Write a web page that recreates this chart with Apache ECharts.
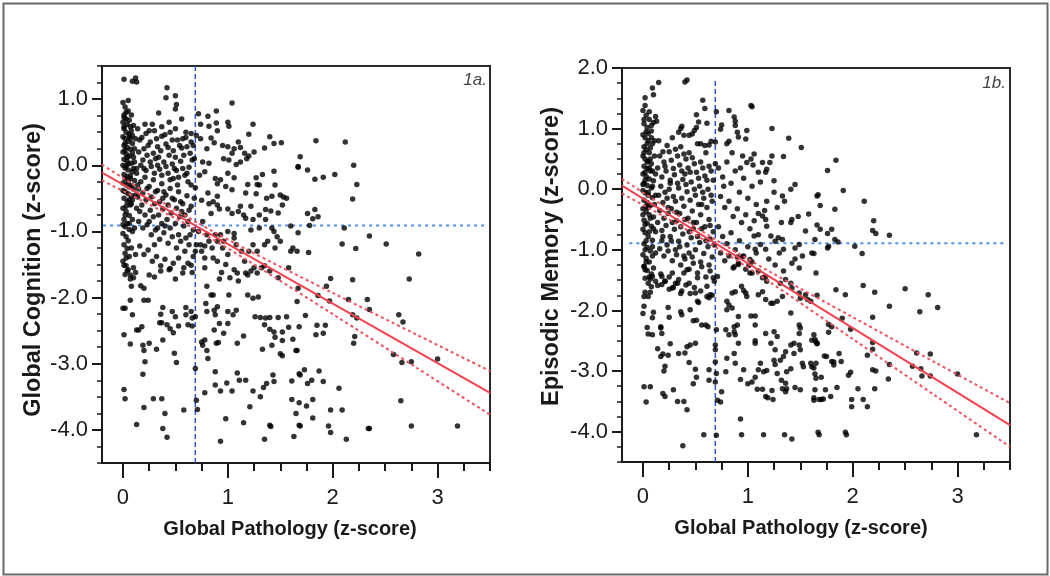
<!DOCTYPE html>
<html>
<head>
<meta charset="utf-8">
<script src="https://cdn.jsdelivr.net/npm/echarts@6/dist/echarts.min.js"></script>
<style>
html,body{margin:0;padding:0;background:#fff;}
#chart{width:1050px;height:576px;}
</style>
</head>
<body>
<div id="chart"></div>
<script>
// ---------- axis ticks ----------
const xMajorTicks = [0, 1, 2, 3];
const xMinorTicks = [0, 0.25, 0.5, 0.75, 1, 1.25, 1.5, 1.75, 2, 2.25, 2.5, 2.75, 3, 3.25, 3.5];
const yMajorTicksA = [-4, -3, -2, -1, 0, 1];
const yMinorTicksA = [-4.5, -4.25, -4, -3.75, -3.5, -3.25, -3, -2.75, -2.5, -2.25, -2, -1.75, -1.5, -1.25, -1, -0.75, -0.5, -0.25, 0, 0.25, 0.5, 0.75, 1, 1.25, 1.5];
const yMajorTicksB = [-4, -3, -2, -1, 0, 1, 2];
const yMinorTicksB = [-4.5, -4.25, -4, -3.75, -3.5, -3.25, -3, -2.75, -2.5, -2.25, -2, -1.75, -1.5, -1.25, -1, -0.75, -0.5, -0.25, 0, 0.25, 0.5, 0.75, 1, 1.25, 1.5, 1.75, 2];

// ---------- panel 1a: Global Cognition vs Global Pathology ----------
const cognitionDense = [[0.00,0.95],[0.02,0.88],[0.05,0.82],[0.01,0.76],[0.03,0.70],[0.00,0.65],[0.04,0.62],[0.07,0.58],[0.01,0.55],[0.03,0.50],[0.06,0.47],[0.00,0.43],[0.02,0.40],[0.05,0.36],[0.09,0.33],[0.01,0.30],[0.04,0.27],[0.07,0.24],[0.00,0.20],[0.03,0.17],[0.06,0.14],[0.10,0.12],[0.01,0.09],[0.04,0.06],[0.08,0.03],[0.00,0.00],[0.02,-0.04],[0.05,-0.07],[0.09,-0.10],[0.01,-0.14],[0.04,-0.17],[0.07,-0.20],[0.11,-0.23],[0.00,-0.27],[0.03,-0.30],[0.06,-0.33],[0.10,-0.36],[0.02,-0.40],[0.05,-0.43],[0.08,-0.46],[0.01,-0.50],[0.04,-0.55],[0.07,-0.60],[0.00,-0.65],[0.03,-0.70],[0.06,-0.76],[0.01,-0.82],[0.04,-0.88],[0.02,-0.93],[0.06,-0.97],[0.00,-1.03],[0.03,-1.08],[0.05,-1.14],[0.01,-1.20],[0.04,-1.26],[0.02,-1.33],[0.06,-1.38],[0.00,-1.45],[0.03,-1.52],[0.05,-1.58],[0.02,-1.65],[0.07,-1.72],[0.01,0.72],[0.06,0.68],[0.08,0.52],[0.02,0.33],[0.09,0.18],[0.03,-0.01],[0.07,-0.16],[0.00,-0.38],[0.05,-0.25],[0.01,0.58],[0.04,0.12],[0.08,-0.58],[0.02,-0.75],[0.09,-0.82],[0.00,-0.90],[0.08,-0.31],[0.06,0.44],[0.10,0.60],[0.12,0.40],[0.13,-0.05],[0.12,-0.45],[0.14,-0.30],[0.11,0.05],[0.13,-0.65],[0.03,0.80],[0.07,0.40],[0.02,0.23],[0.09,0.45],[0.05,0.02],[0.10,-0.05],[0.02,-0.20],[0.09,-0.52],[0.03,-0.62],[0.06,-0.88],[0.09,-1.00],[0.03,-1.40],[0.08,-1.25],[0.11,-0.95],[0.12,-1.35],[0.10,-1.55],[0.05,0.98],[0.08,0.76],[0.11,0.25],[0.06,-0.52]];
const cognitionMid = [[0.14,0.55],[0.18,0.42],[0.22,0.48],[0.26,0.35],[0.30,0.52],[0.33,0.28],[0.37,0.44],[0.41,0.32],[0.45,0.50],[0.48,0.22],[0.52,0.38],[0.56,0.26],[0.60,0.42],[0.64,0.18],[0.67,0.30],[0.15,0.20],[0.19,0.08],[0.23,0.15],[0.27,-0.02],[0.31,0.10],[0.35,-0.06],[0.39,0.05],[0.43,-0.12],[0.47,0.02],[0.51,-0.08],[0.55,0.06],[0.59,-0.15],[0.63,-0.03],[0.66,0.08],[0.13,-0.12],[0.17,-0.25],[0.21,-0.18],[0.25,-0.32],[0.29,-0.22],[0.33,-0.38],[0.37,-0.28],[0.41,-0.45],[0.45,-0.35],[0.49,-0.52],[0.53,-0.40],[0.57,-0.58],[0.61,-0.46],[0.65,-0.62],[0.14,-0.48],[0.18,-0.60],[0.22,-0.52],[0.26,-0.68],[0.30,-0.58],[0.34,-0.75],[0.38,-0.66],[0.42,-0.82],[0.46,-0.72],[0.50,-0.88],[0.54,-0.78],[0.58,-0.92],[0.62,-0.85],[0.67,-0.98],[0.15,-0.85],[0.19,-0.95],[0.23,-0.90],[0.27,-1.05],[0.31,-0.98],[0.35,-1.12],[0.39,-1.02],[0.43,-1.18],[0.47,-1.08],[0.51,-1.25],[0.55,-1.15],[0.59,-1.30],[0.63,-1.20],[0.67,-1.38],[0.16,-1.22],[0.20,-1.35],[0.24,-1.28],[0.28,-1.45],[0.32,-1.38],[0.36,-1.52],[0.40,-1.42],[0.44,-1.58],[0.48,-1.48],[0.53,-1.40],[0.58,-1.55],[0.62,-1.48],[0.66,-1.62],[0.20,-0.05],[0.24,0.30],[0.28,0.62],[0.34,0.12],[0.38,-0.50],[0.44,0.15],[0.52,-0.30],[0.58,0.15],[0.62,-0.25],[0.16,-0.70],[0.40,-0.92],[0.48,-0.20],[0.56,-0.70],[0.30,-1.20],[0.64,-1.05],[0.16,0.38],[0.20,0.25],[0.25,0.52],[0.29,0.18],[0.32,0.40],[0.36,0.22],[0.40,0.46],[0.43,0.27],[0.47,0.38],[0.50,0.12],[0.54,0.30],[0.57,0.40],[0.61,0.28],[0.65,0.35],[0.68,0.10],[0.17,0.00],[0.22,-0.08],[0.26,0.05],[0.30,-0.12],[0.33,0.00],[0.37,-0.15],[0.41,-0.02],[0.45,-0.22],[0.49,-0.05],[0.53,-0.18],[0.57,-0.05],[0.61,-0.12],[0.65,-0.30],[0.15,-0.36],[0.19,-0.42],[0.23,-0.35],[0.27,-0.48],[0.31,-0.40],[0.35,-0.55],[0.39,-0.40],[0.43,-0.60],[0.47,-0.50],[0.51,-0.65],[0.55,-0.55],[0.59,-0.75],[0.63,-0.68],[0.68,-0.50],[0.21,-0.75],[0.25,-0.85],[0.29,-0.78],[0.33,-0.95],[0.37,-0.88],[0.45,-0.95],[0.53,-1.05],[0.60,-1.10]];
const cognitionUpper = [[0.01,1.30],[0.09,1.27],[0.12,1.32],[0.13,1.26],[0.42,1.17],[0.41,1.02],[0.50,1.05],[0.51,0.92],[0.50,0.85],[0.72,0.78],[0.81,0.74],[0.89,0.82],[1.04,0.94],[0.82,0.59],[0.89,0.64],[0.74,0.62],[1.00,0.65],[1.01,0.59],[1.24,0.62],[1.20,0.47],[0.90,0.52],[0.34,0.79],[0.56,0.70],[0.44,0.65],[0.21,0.62],[0.37,0.58],[0.50,0.55],[0.60,0.50],[0.65,0.48],[0.74,0.40],[0.84,0.41],[0.87,0.34],[1.00,0.28],[1.06,0.25],[1.12,0.27],[1.16,0.18],[1.18,0.10],[1.20,0.14],[1.25,0.20],[1.35,0.26],[1.40,0.43],[1.44,0.33],[1.51,0.34],[1.44,-0.09],[1.33,-0.14],[1.27,-0.19],[1.19,-0.29],[1.28,-0.29],[1.17,-0.42],[1.27,-0.43],[1.37,-0.50],[1.42,-0.47],[1.50,-0.45],[1.53,-0.48],[1.56,-0.50],[1.67,-0.02],[1.36,-0.67],[1.41,-0.69],[1.48,-0.72],[1.30,-0.75],[1.24,-0.82],[1.22,-0.98],[1.06,-1.03],[1.00,-1.00],[1.04,-0.37],[1.06,-0.19],[1.00,-0.12],[1.08,0.01],[1.01,0.08],[0.93,-0.22],[0.88,-0.20],[0.90,-0.28],[0.82,0.03],[0.78,-0.10],[0.73,-0.15],[0.69,-0.34],[0.81,-0.42],[0.90,-0.47],[0.75,-0.53],[0.82,-0.58],[0.90,-0.60],[0.92,-0.66],[0.84,-0.73],[1.00,-0.66],[1.04,-0.73],[1.12,-0.62],[1.15,-0.75],[1.17,-0.80],[1.36,-0.82],[1.44,-1.00],[1.47,-1.08],[1.50,-1.15],[1.60,-1.30],[1.24,-1.20],[1.28,-1.30],[1.38,-1.15],[1.06,-1.10],[1.08,-1.20],[1.13,-1.30],[0.93,-1.05],[0.90,-1.15],[0.85,-1.25],[0.95,-1.25],[1.00,-1.35],[0.80,-1.05],[0.82,-1.15],[0.78,-1.22],[0.75,-1.30],[0.86,-1.40],[0.72,-1.00],[0.70,-1.20],[0.69,-1.30],[0.76,0.05],[0.80,0.25],[0.96,0.10],[1.04,0.18],[1.12,0.05],[0.86,-0.55],[0.98,-0.32],[1.10,-0.70],[1.22,-0.62],[0.76,-0.85],[0.88,-1.05],[0.96,-1.15],[1.16,-1.45],[1.20,-1.30],[0.74,-1.20],[0.78,-1.40],[0.90,-1.45],[0.94,-1.62],[0.98,-1.50],[1.02,-1.70],[1.06,-1.58],[1.10,-1.75],[1.30,-0.95],[1.32,-1.55],[1.35,-1.20],[1.22,-1.60],[0.95,0.30],[1.10,0.35],[0.70,0.45],[1.30,-0.30],[1.42,-0.95],[1.45,-1.25],[1.40,-1.60],[1.48,-1.70],[1.58,-1.55],[1.60,-0.92],[1.62,-1.25],[1.52,-0.60],[1.45,-0.30]];
const cognitionRight = [[1.84,0.37],[2.12,0.35],[1.69,0.13],[1.67,-0.03],[1.76,-0.07],[1.83,-0.21],[1.91,-0.18],[2.02,-0.14],[2.20,0.00],[2.23,-0.29],[2.19,-0.51],[1.83,-0.67],[1.76,-0.73],[1.81,-0.81],[1.86,-0.78],[1.78,-0.91],[1.67,-1.02],[2.11,-0.95],[2.35,-1.07],[2.51,-1.19],[2.09,-1.19],[2.22,-1.26],[2.82,-1.34],[1.77,-1.32],[1.66,-1.30],[1.98,-1.71],[2.19,-1.73],[2.73,-1.72],[1.94,-1.83],[1.67,-1.86],[1.86,-1.97],[1.97,-2.05],[2.15,-2.03],[2.33,-2.03],[2.35,-2.18],[1.66,-2.06],[1.74,-2.27],[2.19,-2.26],[2.23,-2.31],[2.63,-2.26],[2.67,-2.37],[1.85,-2.42],[1.93,-2.42],[1.68,-2.44],[1.84,-2.56],[1.91,-2.54],[2.21,-2.59],[2.20,-2.69],[2.58,-2.86],[2.66,-2.98],[2.75,-2.97],[3.00,-2.93],[1.66,-2.80],[1.73,-3.09],[1.69,-3.17],[1.87,-3.11],[1.80,-3.25],[1.76,-3.30],[1.91,-3.27],[2.06,-3.37],[1.68,-3.59],[1.75,-3.64],[1.81,-3.54],[1.98,-3.70],[2.09,-3.70],[2.65,-3.56],[1.81,-3.82],[1.69,-3.94],[1.96,-3.94],[1.98,-4.04],[2.13,-4.14],[2.34,-3.98],[2.35,-3.98],[2.75,-3.94],[3.19,-3.94]];
const cognitionLower = [[0.01,-1.51],[0.04,-1.60],[0.07,-1.66],[0.10,-1.70],[0.08,-1.83],[0.17,-1.82],[0.20,-1.86],[0.25,-1.66],[0.30,-1.69],[0.45,-1.56],[0.57,-1.63],[0.65,-1.51],[0.12,-1.62],[0.36,-1.60],[0.50,-1.72],[0.07,-2.04],[0.20,-2.04],[0.24,-2.04],[0.00,-2.16],[0.02,-2.16],[0.09,-2.26],[0.38,-2.15],[0.36,-2.25],[0.47,-2.21],[0.50,-2.29],[0.60,-2.15],[0.60,-2.26],[0.65,-2.21],[0.69,-2.29],[0.66,-2.31],[0.35,-2.38],[0.37,-2.38],[0.42,-2.41],[0.45,-2.47],[0.48,-2.53],[0.53,-2.43],[0.62,-2.41],[0.66,-2.43],[0.13,-2.49],[0.18,-2.44],[0.15,-2.49],[0.01,-2.56],[0.07,-2.70],[0.19,-2.72],[0.20,-2.80],[0.25,-2.69],[0.32,-2.78],[0.38,-2.64],[0.49,-2.84],[0.51,-2.98],[0.21,-2.97],[0.19,-3.16],[0.01,-3.39],[0.02,-3.53],[0.20,-3.66],[0.29,-3.53],[0.37,-3.53],[0.40,-3.75],[0.13,-3.92],[0.38,-3.98],[0.42,-4.11],[0.58,-3.70],[0.69,-3.07],[0.70,-3.55],[0.71,-3.69],[0.76,-2.72],[0.75,-2.67],[0.80,-2.80],[0.81,-2.92],[0.78,-2.64],[0.80,-1.83],[0.84,-1.96],[0.86,-1.96],[0.79,-2.09],[0.80,-2.21],[0.87,-2.19],[0.90,-2.14],[0.88,-2.26],[1.00,-2.21],[1.01,-1.96],[1.08,-2.19],[1.05,-2.26],[0.92,-2.39],[1.00,-2.39],[0.87,-2.49],[0.96,-2.54],[0.89,-2.69],[0.91,-2.68],[1.09,-2.69],[1.15,-2.58],[1.19,-1.96],[1.24,-2.01],[1.29,-1.99],[1.28,-1.63],[1.17,-1.63],[1.09,-1.63],[1.19,-1.66],[0.78,-1.55],[0.92,-1.72],[1.25,-1.55],[1.35,-1.52],[1.26,-2.29],[1.31,-2.30],[1.36,-2.31],[1.40,-2.30],[1.35,-2.41],[1.40,-2.48],[1.44,-2.52],[1.48,-2.30],[1.52,-2.52],[1.56,-2.29],[1.62,-2.63],[1.42,-2.72],[1.52,-2.65],[1.33,-2.78],[1.52,-2.88],[1.65,-2.80],[0.88,-3.12],[1.09,-3.14],[1.11,-3.25],[1.17,-3.25],[0.99,-3.29],[0.88,-3.32],[0.93,-3.41],[1.04,-3.41],[1.24,-3.41],[1.34,-3.36],[1.37,-3.30],[1.43,-3.17],[1.44,-3.27],[1.61,-3.26],[1.68,-3.15],[0.78,-3.44],[1.21,-3.65],[1.31,-3.50],[1.61,-3.54],[1.65,-3.75],[0.98,-3.83],[1.15,-3.89],[1.40,-3.93],[1.41,-3.95],[1.35,-4.14],[0.93,-4.17],[1.63,-4.10],[1.68,-3.93],[1.45,-2.60],[1.50,-2.85],[1.58,-2.45]];

const fitX = [-0.2, 3.5];
const fitYA = [-0.11, -3.44];
const bandX = [-0.2, 0.2, 0.69, 1.2, 2.0, 2.8, 3.5];
const bandUpperA = [0.01, -0.39, -0.85, -1.29, -1.93, -2.56, -3.11];
const bandLowerA = [-0.23, -0.55, -0.97, -1.45, -2.25, -3.06, -3.77];
const refVertA = [[0.69, -4.5], [0.69, 1.5]];
const refHorzA = [[-0.19, -0.91], [3.47, -0.91]];

// ---------- panel 1b: Episodic Memory vs Global Pathology ----------
const memoryDense = [[0.00,1.30],[0.03,1.22],[0.06,1.15],[0.01,1.08],[0.04,1.02],[0.08,0.96],[0.00,0.90],[0.02,0.85],[0.05,0.80],[0.09,0.75],[0.01,0.70],[0.03,0.65],[0.06,0.60],[0.00,0.55],[0.02,0.50],[0.05,0.46],[0.08,0.42],[0.01,0.38],[0.04,0.34],[0.07,0.30],[0.00,0.25],[0.03,0.21],[0.06,0.17],[0.10,0.14],[0.01,0.10],[0.04,0.06],[0.08,0.02],[0.00,-0.02],[0.02,-0.06],[0.05,-0.10],[0.09,-0.14],[0.01,-0.18],[0.04,-0.22],[0.07,-0.27],[0.00,-0.32],[0.03,-0.37],[0.06,-0.42],[0.10,-0.46],[0.01,-0.51],[0.04,-0.56],[0.08,-0.61],[0.00,-0.66],[0.02,-0.72],[0.05,-0.78],[0.09,-0.84],[0.01,-0.90],[0.04,-0.96],[0.07,-1.02],[0.00,-1.08],[0.03,-1.14],[0.06,-1.20],[0.01,-1.27],[0.04,-1.34],[0.08,-1.40],[0.02,-1.47],[0.05,-1.55],[0.01,1.15],[0.05,0.92],[0.07,0.68],[0.02,0.28],[0.09,0.05],[0.03,-0.28],[0.06,-0.70],[0.02,-1.00],[0.11,0.55],[0.12,0.25],[0.11,-0.25],[0.12,-0.70],[0.10,1.10],[0.08,0.85],[0.04,0.45],[0.00,0.08],[0.07,-0.48],[0.03,-0.85],[0.01,0.60],[0.06,0.35],[0.05,-0.05],[0.00,-0.42],[0.09,-1.10],[0.02,1.38],[0.06,1.28],[0.12,1.20],[0.13,1.12],[0.15,1.76],[0.09,1.67],[0.10,1.56],[0.02,1.51],[0.03,0.95],[0.07,0.50],[0.02,0.15],[0.09,0.30],[0.05,-0.30],[0.10,-0.65],[0.02,-0.58],[0.09,-0.95],[0.03,-1.20],[0.06,-1.45],[0.10,-1.30],[0.12,-1.05],[0.04,0.75],[0.08,1.05],[0.11,0.80],[0.12,-0.10]];
const memoryMid = [[0.15,0.80],[0.19,0.62],[0.23,0.72],[0.27,0.48],[0.31,0.66],[0.35,0.40],[0.39,0.58],[0.43,0.35],[0.47,0.52],[0.51,0.28],[0.55,0.45],[0.59,0.22],[0.63,0.38],[0.67,0.15],[0.14,0.35],[0.18,0.20],[0.22,0.30],[0.26,0.10],[0.30,0.24],[0.34,0.02],[0.38,0.16],[0.42,-0.04],[0.46,0.12],[0.50,-0.10],[0.54,0.05],[0.58,-0.15],[0.62,0.00],[0.66,-0.20],[0.15,-0.10],[0.19,-0.22],[0.23,-0.15],[0.27,-0.32],[0.31,-0.20],[0.35,-0.40],[0.39,-0.28],[0.43,-0.48],[0.47,-0.36],[0.51,-0.55],[0.55,-0.42],[0.59,-0.62],[0.63,-0.50],[0.67,-0.70],[0.14,-0.55],[0.18,-0.68],[0.22,-0.60],[0.26,-0.78],[0.30,-0.66],[0.34,-0.86],[0.38,-0.74],[0.42,-0.92],[0.46,-0.80],[0.50,-1.00],[0.54,-0.88],[0.58,-1.06],[0.62,-0.95],[0.66,-1.12],[0.16,-0.98],[0.20,-1.10],[0.24,-1.02],[0.28,-1.18],[0.32,-1.08],[0.36,-1.25],[0.40,-1.15],[0.44,-1.32],[0.48,-1.22],[0.52,-1.38],[0.56,-1.28],[0.60,-1.45],[0.64,-1.35],[0.68,-1.52],[0.17,-1.40],[0.21,-1.52],[0.25,-1.45],[0.29,-1.62],[0.33,-1.55],[0.37,-1.68],[0.41,-1.58],[0.45,-1.72],[0.49,-1.62],[0.55,-1.68],[0.61,-1.60],[0.66,-1.75],[0.20,0.45],[0.28,0.85],[0.36,0.70],[0.44,0.60],[0.52,0.75],[0.60,0.60],[0.24,-0.40],[0.40,0.25],[0.48,-0.65],[0.56,-0.25],[0.32,-0.52],[0.64,-0.82],[0.18,-0.85],[0.44,-1.05],[0.26,0.15],[0.16,0.55],[0.21,0.38],[0.25,0.62],[0.29,0.34],[0.33,0.55],[0.37,0.30],[0.41,0.50],[0.45,0.28],[0.49,0.42],[0.53,0.18],[0.57,0.35],[0.61,0.15],[0.65,0.30],[0.69,0.42],[0.17,0.05],[0.21,-0.05],[0.25,0.00],[0.29,-0.12],[0.33,0.10],[0.37,-0.15],[0.41,0.08],[0.45,-0.18],[0.49,0.00],[0.53,-0.25],[0.57,-0.05],[0.61,-0.30],[0.65,-0.10],[0.16,-0.35],[0.20,-0.48],[0.24,-0.30],[0.28,-0.55],[0.32,-0.38],[0.36,-0.62],[0.40,-0.50],[0.44,-0.70],[0.48,-0.55],[0.52,-0.78],[0.56,-0.65],[0.60,-0.85],[0.64,-0.60],[0.68,-0.92],[0.19,-0.78],[0.23,-0.92],[0.27,-0.85],[0.31,-1.00],[0.35,-0.95],[0.39,-1.10],[0.47,-1.12],[0.55,-1.20],[0.63,-1.25]];
const memoryUpper = [[0.42,1.80],[0.40,1.77],[0.57,1.47],[0.59,1.33],[0.51,1.23],[0.70,1.28],[0.82,1.30],[0.87,1.19],[0.88,1.12],[0.88,1.05],[1.03,1.38],[1.04,1.36],[0.99,0.97],[0.98,0.83],[0.90,0.94],[0.91,0.86],[0.75,1.06],[0.74,0.99],[0.61,1.09],[0.53,1.11],[0.51,1.02],[0.37,1.04],[0.36,1.00],[0.34,0.94],[0.39,0.89],[0.44,0.89],[0.47,0.91],[0.49,0.97],[0.55,0.75],[0.59,0.72],[0.63,0.73],[0.65,0.79],[0.69,0.78],[0.80,0.75],[0.82,0.79],[1.23,1.00],[1.39,0.84],[1.51,0.69],[1.34,0.54],[1.45,0.08],[1.41,0.00],[1.33,-0.11],[1.25,0.14],[1.23,0.55],[1.21,0.44],[1.18,0.33],[1.17,0.28],[1.14,0.44],[1.10,0.28],[0.99,0.44],[1.03,0.50],[1.06,0.58],[1.58,-0.41],[1.55,-0.69],[1.66,-0.11],[1.42,-0.50],[1.41,-0.55],[1.64,-0.83],[1.49,-0.91],[1.61,-1.05],[1.14,-0.44],[1.17,-0.50],[1.18,-0.61],[1.29,-0.80],[1.33,-0.83],[1.34,-0.99],[1.45,-0.97],[1.22,-0.77],[1.26,-0.86],[1.06,-0.77],[1.07,-0.99],[1.02,-1.16],[0.95,-1.11],[0.91,-1.22],[1.12,-0.91],[1.17,-0.99],[0.72,0.35],[0.76,0.20],[0.80,0.45],[0.84,0.10],[0.88,0.30],[0.92,-0.05],[0.96,0.18],[1.00,-0.15],[1.04,0.05],[1.08,-0.25],[1.12,0.12],[1.16,-0.35],[0.74,-0.12],[0.78,-0.30],[0.82,-0.20],[0.86,-0.45],[0.90,-0.32],[0.94,-0.55],[0.98,-0.42],[1.02,-0.65],[1.06,-0.52],[1.10,-0.75],[0.72,-0.62],[0.76,-0.78],[0.80,-0.90],[0.84,-0.72],[0.88,-1.00],[0.92,-0.85],[0.96,-1.10],[1.00,-0.95],[1.04,-1.20],[1.08,-1.05],[0.74,-1.05],[0.78,-1.18],[0.82,-1.10],[0.86,-1.30],[0.90,-1.12],[0.98,-1.32],[1.20,-1.15],[1.26,-1.25],[1.30,-1.05],[1.34,-1.35],[1.28,-0.30],[1.32,-0.55],[1.25,-0.05],[0.95,0.55],[1.05,0.40],[0.85,0.60],[1.10,-0.40],[1.18,-0.20],[0.77,0.05],[0.93,0.35],[1.35,-0.20],[1.48,-0.45],[1.52,-1.10],[1.45,-1.15]];
const memoryRight = [[1.84,0.48],[1.76,0.31],[1.67,-0.09],[1.69,-0.27],[1.91,-0.02],[1.83,-0.33],[2.11,-0.20],[2.20,-0.52],[2.19,-0.68],[2.22,-0.73],[2.35,-0.76],[1.66,-0.59],[1.69,-0.66],[1.80,-0.66],[1.76,-0.73],[1.83,-0.83],[1.86,-0.87],[1.77,-0.94],[1.76,-0.97],[2.02,-0.94],[2.09,-1.06],[1.63,-1.06],[1.66,-1.75],[1.84,-1.66],[1.93,-1.74],[2.10,-1.59],[2.21,-1.70],[2.50,-1.64],[2.72,-1.74],[2.35,-1.93],[2.64,-2.02],[2.81,-1.95],[2.19,-2.11],[1.90,-2.13],[1.98,-2.31],[1.77,-2.23],[1.80,-2.27],[1.77,-2.36],[1.63,-2.40],[1.64,-2.48],[1.66,-2.55],[2.19,-2.53],[2.19,-2.64],[2.14,-2.74],[2.61,-2.70],[2.74,-2.72],[1.87,-2.71],[1.73,-2.75],[1.75,-2.76],[1.80,-2.84],[1.82,-2.85],[1.82,-2.90],[1.89,-2.84],[2.35,-2.89],[2.57,-2.92],[2.65,-2.96],[2.66,-3.08],[2.74,-3.08],[3.00,-3.05],[2.19,-2.98],[2.22,-3.00],[1.98,-3.02],[1.96,-3.07],[1.63,-2.95],[1.64,-3.05],[1.65,-3.12],[1.70,-3.10],[2.34,-3.13],[1.64,-3.31],[1.74,-3.31],[1.85,-3.27],[2.05,-3.29],[2.21,-3.29],[1.79,-3.42],[1.63,-3.44],[1.68,-3.47],[1.70,-3.47],[1.72,-3.46],[1.99,-3.47],[1.99,-3.59],[2.10,-3.47],[2.14,-3.59],[1.67,-4.01],[1.93,-4.01],[3.18,-4.05]];
const memoryLower = [[0.01,-1.28],[0.02,-1.33],[0.09,-1.44],[0.07,-1.48],[0.18,-1.44],[0.21,-1.52],[0.18,-1.57],[0.28,-1.38],[0.31,-1.55],[0.39,-1.38],[0.42,-1.33],[0.34,-1.49],[0.44,-1.55],[0.52,-1.46],[0.67,-1.46],[0.71,-1.44],[0.12,-1.52],[0.14,-1.59],[0.08,-1.61],[0.02,-1.70],[0.05,-1.77],[0.25,-1.65],[0.28,-1.63],[0.01,-1.77],[0.07,-1.70],[0.36,-1.72],[0.50,-1.71],[0.61,-1.77],[0.64,-1.74],[0.63,-1.79],[0.01,-1.93],[0.00,-2.05],[0.10,-2.03],[0.09,-2.12],[0.24,-1.95],[0.25,-2.11],[0.36,-2.02],[0.37,-2.07],[0.45,-1.99],[0.52,-1.85],[0.53,-1.87],[0.48,-2.17],[0.51,-2.16],[0.56,-2.24],[0.60,-2.24],[0.62,-2.27],[0.04,-2.28],[0.09,-2.40],[0.05,-2.39],[0.17,-2.27],[0.18,-2.38],[0.17,-2.29],[0.26,-2.55],[0.14,-2.63],[0.19,-2.72],[0.17,-2.76],[0.24,-2.74],[0.34,-2.71],[0.42,-2.60],[0.45,-2.57],[0.50,-2.54],[0.40,-2.70],[0.44,-2.86],[0.50,-2.97],[0.51,-3.10],[0.21,-2.92],[0.20,-3.00],[0.01,-3.26],[0.07,-3.26],[0.19,-3.37],[0.21,-3.42],[0.29,-3.31],[0.33,-3.50],[0.39,-3.50],[0.42,-3.64],[0.03,-3.51],[0.58,-4.05],[0.38,-4.23],[0.48,-3.21],[0.63,-3.15],[0.63,-2.98],[0.69,-2.65],[0.69,-2.85],[0.70,-3.04],[0.69,-3.18],[0.70,-2.32],[0.69,-2.57],[0.70,-4.06],[0.71,-3.48],[0.75,-3.34],[0.74,-3.51],[0.79,-2.32],[0.82,-2.40],[0.87,-2.35],[0.87,-2.27],[0.88,-2.40],[0.80,-1.85],[0.82,-1.91],[0.85,-1.96],[0.80,-1.99],[0.85,-1.71],[0.88,-1.69],[0.94,-1.60],[0.96,-1.67],[0.98,-1.71],[0.99,-1.77],[0.87,-1.28],[0.91,-1.24],[1.01,-1.26],[1.02,-1.38],[1.03,-2.09],[1.07,-2.09],[1.07,-2.24],[0.91,-2.10],[0.90,-2.24],[0.91,-2.54],[0.87,-2.71],[0.80,-2.79],[0.79,-3.01],[0.88,-2.87],[0.96,-2.98],[1.07,-2.50],[1.07,-2.54],[0.93,-3.14],[1.00,-3.21],[1.04,-3.18],[1.07,-3.10],[1.12,-2.87],[1.15,-3.01],[1.10,-2.98],[1.17,-2.38],[1.22,-2.54],[1.26,-2.65],[1.25,-2.35],[1.28,-2.43],[1.36,-2.68],[1.41,-2.57],[1.44,-2.54],[1.34,-2.76],[1.44,-2.71],[1.31,-2.82],[1.37,-3.01],[1.41,-2.96],[1.49,-2.57],[1.50,-2.65],[1.52,-2.87],[1.53,-2.93],[1.60,-2.87],[1.61,-2.93],[1.65,-2.87],[1.49,-2.24],[1.50,-2.29],[1.49,-2.38],[1.61,-2.49],[1.65,-2.52],[1.66,-2.54],[1.25,-2.82],[1.26,-2.89],[1.28,-3.04],[1.18,-2.99],[1.09,-3.30],[1.14,-3.30],[1.17,-3.42],[1.23,-3.32],[1.24,-3.47],[1.19,-3.44],[1.32,-3.15],[1.33,-3.29],[1.36,-3.34],[1.37,-3.29],[1.45,-3.27],[1.50,-3.31],[1.36,-3.20],[1.63,-3.48],[0.93,-3.79],[0.94,-4.05],[1.15,-4.05],[1.35,-4.05],[1.42,-4.12],[1.68,-4.05],[1.94,-4.05],[1.10,-1.74],[1.14,-1.69],[1.17,-1.82],[1.22,-1.88],[1.24,-1.88],[1.28,-1.85],[1.33,-1.77],[1.04,-1.38],[1.10,-1.35],[1.41,-1.55],[1.42,-1.63],[1.49,-1.71],[1.50,-1.80],[1.31,-1.55],[1.36,-1.49],[1.14,-1.46],[1.17,-1.44],[1.18,-1.52],[1.55,-1.74],[1.57,-1.82],[1.60,-1.85],[1.42,-1.22],[1.49,-1.30],[1.65,-1.38],[1.41,-2.04]];

const fitYB = [0.06, -3.89];
const bandUpperB = [0.17, -0.28, -0.83, -1.35, -2.11, -2.87, -3.53];
const bandLowerB = [-0.07, -0.45, -0.95, -1.52, -2.47, -3.42, -4.25];
const refVertB = [[0.69, -4.5], [0.69, 1.83]];
const refHorzB = [[-0.13, -0.89], [3.46, -0.89]];

const cognitionPoints = [].concat(cognitionDense, cognitionMid, cognitionUpper, cognitionRight, cognitionLower);
const memoryPoints = [].concat(memoryDense, memoryMid, memoryUpper, memoryRight, memoryLower);

// ---------- layout helpers ----------
const FONT = '"Liberation Sans", Arial, Helvetica, sans-serif';
const INK = '#1a1a1a';
const zip = (xs, ys) => xs.map((x, i) => [x, ys[i]]);

function xAxes(g, namePadRight) {
  return [{
    gridIndex: g, type: 'value', position: 'bottom', min: -0.2, max: 3.5,
    splitLine: { show: false },
    axisLine: { show: true, onZero: false, lineStyle: { color: INK, width: 2 } },
    axisTick: { show: true, length: 15, customValues: xMajorTicks, lineStyle: { color: INK, width: 2 } },
    axisLabel: { customValues: xMajorTicks, margin: 24, fontSize: 22, color: INK, fontFamily: FONT },
    name: 'Global Pathology (z-score)', nameLocation: 'middle', nameGap: 56,
    nameTextStyle: { fontSize: 20, fontWeight: 'bold', color: INK, fontFamily: FONT, padding: [0, namePadRight, 0, 0] }
  }, {
    gridIndex: g, type: 'value', position: 'bottom', offset: 0, min: -0.2, max: 3.5,
    splitLine: { show: false },
    axisLine: { show: false, onZero: false },
    axisTick: { show: true, length: 8, customValues: xMinorTicks, lineStyle: { color: INK, width: 2 } },
    axisLabel: { show: false }
  }];
}
function yAxes(g, min, max, major, minor, name, nameGap, pad) {
  return [{
    gridIndex: g, type: 'value', position: 'left', min: min, max: max,
    splitLine: { show: false },
    axisLine: { show: true, onZero: false, lineStyle: { color: INK, width: 2 } },
    axisTick: { show: true, length: 10, customValues: major, lineStyle: { color: INK, width: 2 } },
    axisLabel: { customValues: major, margin: 14, fontSize: 22, color: INK, fontFamily: FONT,
      formatter: v => v.toFixed(1) },
    name: name, nameLocation: 'middle', nameGap: nameGap,
    nameTextStyle: { fontSize: 23.5, fontWeight: 'bold', color: INK, fontFamily: FONT, padding: pad }
  }, {
    gridIndex: g, type: 'value', position: 'left', offset: 0, min: min, max: max,
    splitLine: { show: false },
    axisLine: { show: false, onZero: false },
    axisTick: { show: true, length: 5, customValues: minor, lineStyle: { color: INK, width: 1.5 } },
    axisLabel: { show: false }
  }];
}
function panelSeries(xi, yi, pts, fitY, up, lo, vert, horz) {
  const base = { xAxisIndex: xi, yAxisIndex: yi, silent: true, animation: false };
  return [
    Object.assign({ type: 'line', data: vert, symbol: 'none', z: 1,
      lineStyle: { color: '#2f55d4', width: 1.5, type: [5, 3] } }, base),
    Object.assign({ type: 'line', data: horz, symbol: 'none', z: 1,
      lineStyle: { color: '#4f8ff2', width: 2, type: [3, 4] } }, base),
    Object.assign({ type: 'scatter', data: pts, symbol: 'circle', symbolSize: 5.5, z: 2,
      itemStyle: { color: '#000' } }, base),
    Object.assign({ type: 'line', data: zip(fitX, fitY), symbol: 'none', z: 3,
      lineStyle: { color: '#f2424f', width: 2 } }, base),
    Object.assign({ type: 'line', data: zip(bandX, up), symbol: 'none', smooth: 0.3, z: 3,
      lineStyle: { color: '#f4505c', width: 2, type: [3, 3] } }, base),
    Object.assign({ type: 'line', data: zip(bandX, lo), symbol: 'none', smooth: 0.3, z: 3,
      lineStyle: { color: '#f4505c', width: 2, type: [3, 3] } }, base)
  ];
}

const chart = echarts.init(document.getElementById('chart'), null, { renderer: 'canvas' });
chart.setOption({
  backgroundColor: '#ffffff',
  animation: false,
  grid: [
    { left: 102, top: 66, width: 388, height: 397, show: true, borderColor: '#2a2a2a', borderWidth: 2, backgroundColor: 'transparent' },
    { left: 622, top: 68, width: 388, height: 394, show: true, borderColor: '#2a2a2a', borderWidth: 2, backgroundColor: 'transparent' }
  ],
  xAxis: [].concat(xAxes(0, 12), xAxes(1, 30)),
  yAxis: [].concat(
    yAxes(0, -4.5, 1.5, yMajorTicksA, yMinorTicksA, 'Global Cognition (z-score)', 56, [0, 11, 0, 0]),
    yAxes(1, -4.5, 2.0, yMajorTicksB, yMinorTicksB, 'Episodic Memory (z-score)', 58, [0, 0, 0, 17])
  ),
  series: [].concat(
    panelSeries(0, 0, cognitionPoints, fitYA, bandUpperA, bandLowerA, refVertA, refHorzA),
    panelSeries(2, 2, memoryPoints, fitYB, bandUpperB, bandLowerB, refVertB, refHorzB)
  ),
  graphic: [
    { type: 'rect', left: 1, top: 1, z: 100, silent: true,
      shape: { width: 1044, height: 571 }, style: { fill: 'none', stroke: '#6a6a6a', lineWidth: 2 } },
    { type: 'text', right: 563, top: 72, z: 100, silent: true,
      style: { text: '1a.', font: 'italic 17px ' + FONT, fill: '#444' } },
    { type: 'text', right: 44, top: 75, z: 100, silent: true,
      style: { text: '1b.', font: 'italic 17px ' + FONT, fill: '#444' } }
  ]
});
</script>
</body>
</html>
